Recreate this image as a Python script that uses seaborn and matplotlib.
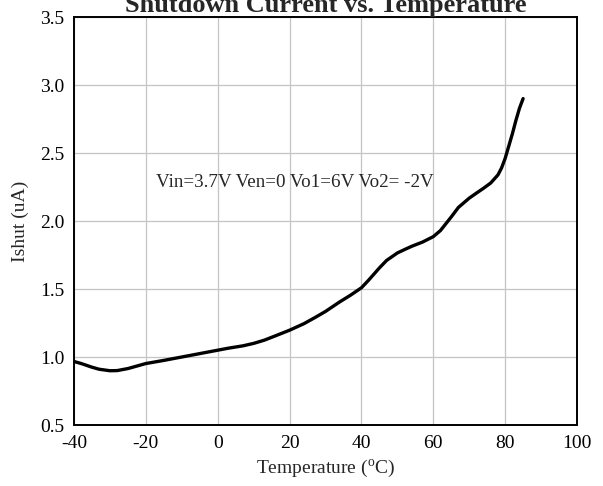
import matplotlib
matplotlib.use("Agg")
import matplotlib.pyplot as plt
import seaborn as sns
import pandas as pd

temperature = [-40, -38, -35, -33, -30, -28, -25, -20, -15, -10, -5, 0, 3, 7, 10, 13, 16, 20, 24, 27, 30, 34, 37, 40, 42, 45, 47, 50, 52, 54, 57, 60, 62, 65, 67, 70, 72, 74, 76, 78, 79, 80, 81, 82, 83, 84, 85]
ishut = [0.967, 0.952, 0.925, 0.910, 0.899, 0.900, 0.915, 0.952, 0.975, 1.0, 1.025, 1.05, 1.065, 1.082, 1.10, 1.124, 1.155, 1.197, 1.245, 1.289, 1.335, 1.406, 1.455, 1.509, 1.565, 1.655, 1.71, 1.765, 1.79, 1.814, 1.845, 1.885, 1.93, 2.03, 2.10, 2.168, 2.205, 2.241, 2.28, 2.339, 2.39, 2.46, 2.55, 2.64, 2.74, 2.83, 2.9]
x_ticks = [-40, -20, 0, 20, 40, 60, 80, 100]
y_ticks = [0.5, 1.0, 1.5, 2.0, 2.5, 3.0, 3.5]
title = "Shutdown Current vs. Temperature"
annotation = "Vin=3.7V Ven=0 Vo1=6V Vo2= -2V"

sns.set_style("white")
plt.rcParams["font.family"] = ["Liberation Serif", "DejaVu Serif"]
plt.rcParams["mathtext.fontset"] = "custom"
plt.rcParams["mathtext.rm"] = "Liberation Serif"

df = pd.DataFrame({"Temperature": temperature, "Ishut": ishut})

fig = plt.figure(figsize=(6.03, 4.86), dpi=100)
ax = fig.add_axes([74 / 603, 1 - 425 / 486, (577 - 74) / 603, (425 - 17) / 486])

sns.lineplot(data=df, x="Temperature", y="Ishut", ax=ax, color="black", linewidth=2.4)
ax.lines[0].set_solid_joinstyle("round")
ax.lines[0].set_solid_capstyle("round")

ax.set_xlim(-40, 100)
ax.set_ylim(0.5, 3.5)
ax.set_xticks(x_ticks)
ax.set_yticks(y_ticks)
ax.set_xticklabels([str(t) for t in x_ticks])
ax.set_yticklabels([f"{v:.1f}" for v in y_ticks])
ax.tick_params(axis="both", length=0, labelsize=14, colors="black")
ax.tick_params(axis="x", pad=7)
ax.tick_params(axis="y", pad=7)
ax.grid(True, color="#c4c4c4", linewidth=0.9)
for s in ax.spines.values():
    s.set_color("black")
    s.set_linewidth(1.4)
    s.set_visible(True)

ax.set_xlabel("Temperature ($^{\\mathrm{o}}$C)", fontsize=14, labelpad=4)
ax.set_ylabel("Ishut (uA)", fontsize=14, labelpad=8)

ax.text(-17.2, 2.252, annotation, fontsize=13.7, va="baseline", ha="left")

fig.text((74 + 577) / 2 / 603, 1 - 12 / 486, title, fontsize=19, fontweight="bold",
         ha="center", va="baseline")

fig.savefig("out.png", dpi=100)
